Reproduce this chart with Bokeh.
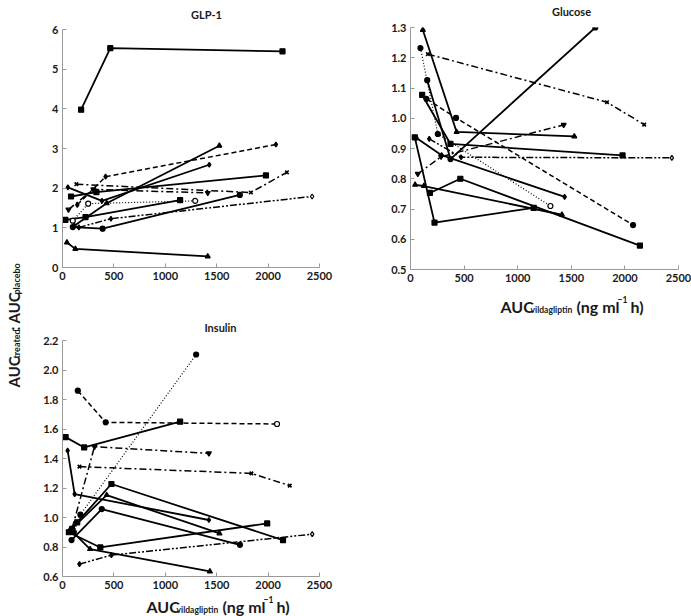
from math import pi
from bokeh.plotting import figure
from bokeh.models import Range1d, FixedTicker, PrintfTickFormatter, Label
from bokeh.layouts import row, column
from bokeh.embed import file_html
from bokeh.resources import INLINE

FONT = "Lato"

# ---------------- data ----------------
x_ticks = [0, 500, 1000, 1500, 2000, 2500]
glp1_ticks = [0, 1, 2, 3, 4, 5, 6]
glucose_ticks = [0.5, 0.6, 0.7, 0.8, 0.9, 1.0, 1.1, 1.2, 1.3]
insulin_ticks = [0.6, 0.8, 1.0, 1.2, 1.4, 1.6, 1.8, 2.0, 2.2]

subjects = ["A", "B", "C", "D", "E", "F", "G", "H", "I", "J", "K", "L"]

glp1_x = [
    [181, 465, 2140], [43, 125, 1413], [144, 419, 2076], [135, 1832, 2183],
    [159, 471, 2428], [28, 224, 1144], [52, 384, 1428], [83, 330, 1979],
    [58, 300, 1413], [100, 390, 1725], [100, 250, 1291], [115, 430, 1526],
]
glp1_y = [
    [3.98, 5.53, 5.45], [0.63, 0.47, 0.28], [1.58, 2.29, 3.10], [2.10, 1.89, 2.40],
    [1.01, 1.23, 1.79], [1.20, 1.27, 1.70], [2.02, 1.68, 2.59], [1.79, 1.90, 2.32],
    [1.46, 1.97, 1.88], [1.02, 0.98, 1.83], [1.18, 1.61, 1.68], [1.05, 1.62, 3.07],
]

glucose_x = [
    [181, 465, 2140], [43, 125, 1413], [150, 425, 2076], [162, 1833, 2180],
    [175, 472, 2438], [40, 224, 1149], [56, 290, 1438], [109, 373, 1978],
    [68, 285, 1429], [156, 373, 1724], [93, 255, 1305], [115, 430, 1528],
]
glucose_y = [
    [0.753, 0.800, 0.579], [0.780, 0.776, 0.681], [1.064, 1.001, 0.647], [1.212, 1.053, 0.979],
    [0.932, 0.871, 0.869], [0.937, 0.655, 0.704], [0.935, 0.878, 0.740], [1.077, 0.915, 0.877],
    [0.816, 0.873, 0.978], [1.126, 0.865, 1.300], [1.232, 0.948, 0.710], [1.292, 0.955, 0.940],
]

insulin_x = [
    [143, 476, 2145], [75, 268, 1434], [149, 420, 2087], [165, 1838, 2211],
    [165, 476, 2429], [30, 211, 1144], [50, 118, 1424], [62, 368, 1991],
    [95, 311, 1424], [88, 382, 1726], [110, 174, 1300], [100, 430, 1527],
]
insulin_y = [
    [0.967, 1.227, 0.847], [0.920, 0.786, 0.634], [1.860, 1.645, 1.634], [1.345, 1.299, 1.216],
    [0.684, 0.745, 0.887], [1.545, 1.475, 1.650], [1.453, 1.159, 0.983], [0.900, 0.797, 0.960],
    [0.930, 1.480, 1.435], [0.847, 1.057, 0.815], [0.900, 1.019, 2.105], [0.930, 1.152, 0.892],
]

# ---------------- styles ----------------
DASH = {"solid": "solid", "dashed": "5 3", "dashdot": "7 3 2 3",
        "dashdotdot": "7 2 2 2 2 2", "dotted": "1 2"}
series_dash = ["solid", "solid", "dashed", "dashdot", "dashdotdot", "solid",
               "solid", "solid", "dashdot", "solid", "dotted", "solid"]
glp1_marker = ["square", "triangle", "diamond", "x", "diamond", "square",
               "diamond", "square", "inverted_triangle", "circle", "circle", "triangle"]
other_marker = ["square", "triangle", "circle", "x", "diamond", "square",
                "diamond", "square", "inverted_triangle", "circle", "circle", "triangle"]
glp1_hollow = ["none", "none", "none", "none", "last", "none",
               "none", "none", "none", "none", "all", "none"]
glucose_hollow = ["none", "none", "none", "none", "last", "none",
                  "none", "none", "none", "none", "last", "none"]
insulin_hollow = ["none", "none", "last", "none", "last", "none",
                  "none", "none", "none", "none", "none", "none"]

TXT = "#1a1a1a"


def style_fig(p, yticks, yfmt):
    p.xaxis.ticker = FixedTicker(ticks=x_ticks)
    p.yaxis.ticker = FixedTicker(ticks=yticks)
    p.xaxis.formatter = PrintfTickFormatter(format="%d")
    p.yaxis.formatter = PrintfTickFormatter(format=yfmt)
    for ax in (p.xaxis, p.yaxis):
        ax.axis_line_color = "#9a9a9a"
        ax.axis_line_width = 1
        ax.major_tick_line_color = "#9a9a9a"
        ax.major_tick_in = 4
        ax.major_tick_out = 0
        ax.minor_tick_line_color = None
        ax.major_label_text_font = FONT
        ax.major_label_text_font_size = "11px"
        ax.major_label_text_font_style = "bold"
        ax.major_label_text_color = TXT
        ax.major_label_standoff = 4
    p.grid.visible = False
    p.outline_line_color = None
    p.background_fill_color = "white"
    p.border_fill_color = "white"


def draw_series(p, xs_list, ys_list, markers, hollow):
    for i, (xs, ys) in enumerate(zip(xs_list, ys_list)):
        d = series_dash[i]
        lw = 1.8 if d == "solid" else (1.2 if d == "dotted" else 1.5)
        p.line(xs, ys, line_color="black", line_width=lw, line_dash=DASH[d])
        h = hollow[i]
        fills = []
        for k in range(len(xs)):
            hol = (h == "all") or (h == "last" and k == len(xs) - 1)
            fills.append("white" if hol else "black")
        m = markers[i]
        p.scatter(xs, ys, marker=m, size=5,
                  fill_color=fills, line_color="black",
                  line_width=1.2 if m != "x" else 1.6)


def strip(width, height):
    s = figure(width=width, height=height, output_backend="svg", toolbar_location=None,
               title=None, x_range=Range1d(0, 1), y_range=Range1d(0, 1),
               x_axis_type=None, y_axis_type=None,
               min_border_left=0, min_border_right=0, min_border_top=0, min_border_bottom=0)
    s.grid.visible = False
    s.outline_line_color = None
    s.background_fill_color = "white"
    s.border_fill_color = "white"
    return s


def add_text(s, text, x, y, size, align="left", angle=0.0):
    s.add_layout(Label(x=x, y=y, x_units="screen", y_units="screen", text=text,
                       angle=angle, text_font=FONT, text_font_size=size,
                       text_font_style="bold", text_align=align,
                       text_baseline="alphabetic", text_color=TXT))


def add_xlabel(s, x0, y0):
    parts = [("AUC", 0, 0, "16px"), ("vildagliptin", 30, -3, "8.5px"),
             ("(ng ml", 76, 0, "16px"), ("\u22121", 117, 7, "8.5px"),
             ("h)", 130, 0, "16px")]
    for t, dx, dy, fs in parts:
        add_text(s, t, x0 + dx, y0 + dy, fs)


# ---------------- GLP-1 (middle column, top) ----------------
t1 = strip(350, 23)
add_text(t1, "GLP-1", 144, 9.5, "11px", align="center")
p1 = figure(width=350, height=289, output_backend="svg", toolbar_location=None, title=None,
            x_range=Range1d(0, 2500), y_range=Range1d(0, 6),
            min_border_left=22, min_border_right=61, min_border_top=6, min_border_bottom=45)
style_fig(p1, glp1_ticks, "%d")
draw_series(p1, glp1_x, glp1_y, glp1_marker, glp1_hollow)

# ---------------- Insulin (middle column, bottom) ----------------
t3 = strip(350, 22)
add_text(t3, "Insulin", 158, 7, "11px", align="center")
p3 = figure(width=350, height=259, output_backend="svg", toolbar_location=None, title=None,
            x_range=Range1d(0, 2500), y_range=Range1d(0.6, 2.2),
            min_border_left=32, min_border_right=50, min_border_top=6, min_border_bottom=17)
style_fig(p3, insulin_ticks, "%.1f")
draw_series(p3, insulin_x, insulin_y, other_marker, insulin_hollow)
x3 = strip(350, 23)
add_xlabel(x3, 84, 10)

# ---------------- Glucose (right column) ----------------
t2 = strip(311, 21)
add_text(t2, "Glucose", 161, 10, "11px", align="center")
p2 = figure(width=311, height=268, output_backend="svg", toolbar_location=None, title=None,
            x_range=Range1d(0, 2500), y_range=Range1d(0.5, 1.3),
            min_border_left=30, min_border_right=13, min_border_top=6, min_border_bottom=20)
style_fig(p2, glucose_ticks, "%.1f")
draw_series(p2, glucose_x, glucose_y, other_marker, glucose_hollow)
x2 = strip(311, 27)
add_xlabel(x2, 90, 10)

# ---------------- shared y label ----------------
py = strip(30, 616)
add_text(py, "AUC", 13, 229, "15px", angle=pi / 2)
add_text(py, "treated", 16, 258, "9px", angle=pi / 2)
add_text(py, ":", 13, 286, "15px", angle=pi / 2)
add_text(py, "AUC", 13, 293, "15px", angle=pi / 2)
add_text(py, "placebo", 16, 322, "9px", angle=pi / 2)

layout = row(py, column(t1, p1, t3, p3, x3), column(t2, p2, x2))

open("out.html", "w").write(file_html(layout, INLINE))
